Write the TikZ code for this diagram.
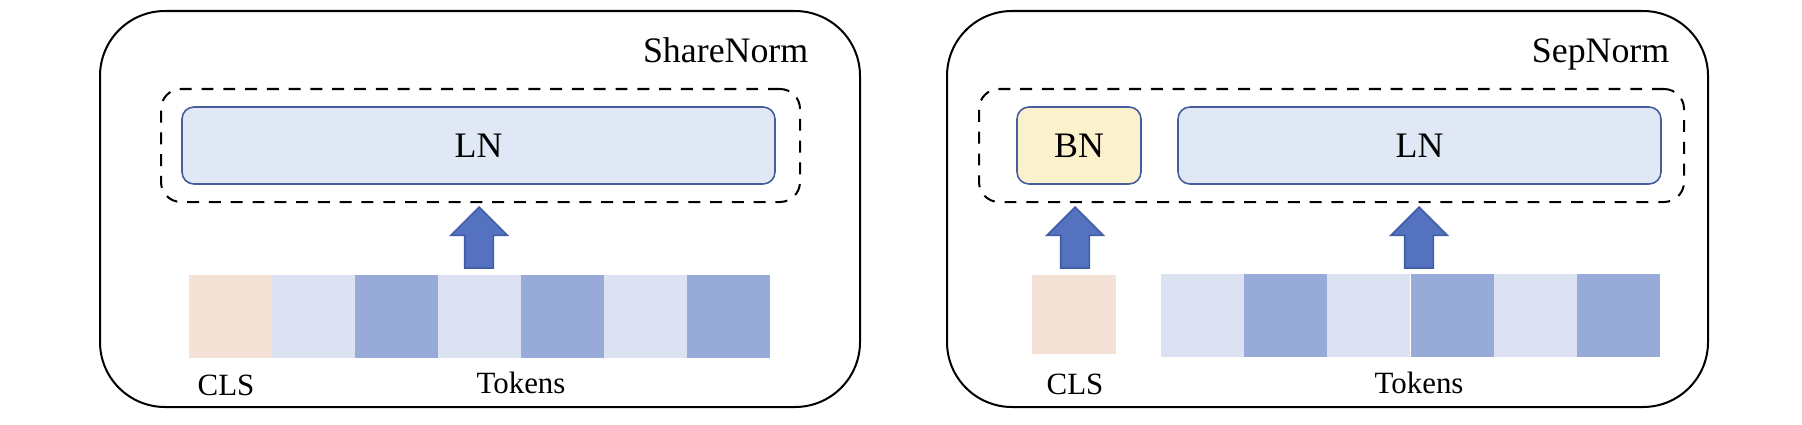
\documentclass[tikz,border=0pt]{standalone}
\usepackage{fontspec}
\setmainfont{Liberation Serif}
\usetikzlibrary{shapes.arrows}

\definecolor{lnfill}{RGB}{225,232,245}
\definecolor{bnfill}{RGB}{251,241,205}
\definecolor{boxline}{RGB}{70,94,158}
\definecolor{arrowfill}{RGB}{84,114,192}
\definecolor{arrowline}{RGB}{64,92,165}
\definecolor{clsfill}{RGB}{245,226,214}
\definecolor{toklight}{RGB}{220,226,241}
\definecolor{tokdark}{RGB}{152,171,216}

\tikzset{
  panel/.style={draw, line width=0.57pt, rounded corners=0.65cm, inner sep=0pt},
  normgroup/.style={draw, dash pattern=on 3.4pt off 2.8pt, line width=0.57pt, rounded corners=0.2cm, inner sep=0pt},
  normbox/.style={draw=boxline, line width=0.45pt, rounded corners=0.12cm, minimum height=0.77cm, inner sep=0pt, font=\fontsize{10.2}{12}\selectfont},
  tok/.style={minimum width=0.83cm, minimum height=0.83cm, inner sep=0pt},
  upblock/.style={single arrow, shape border rotate=90, fill=arrowfill, draw=arrowline, line width=0.45pt,
    minimum height=0.61cm, minimum width=0.55cm, single arrow head extend=0.14cm, inner sep=0.135cm},
  title/.style={font=\fontsize{10.2}{12}\selectfont, inner sep=0pt},
  caption/.style={font=\fontsize{8.8}{10}\selectfont, inner sep=0pt}
}

\begin{document}
\begin{tikzpicture}
  \useasboundingbox (0,0) rectangle (18.02,4.24);

  % ShareNorm
  \node[panel, minimum width=7.60cm, minimum height=3.96cm] (panelL) at (4.80,2.15) {};
  \node[title, anchor=base east] (titleL) at (8.09,3.61) {ShareNorm};
  \node[normgroup, minimum width=6.39cm, minimum height=1.13cm] (groupL) at (4.805,2.785) {};
  \node[normbox, fill=lnfill, minimum width=5.93cm] (lnL) at (4.785,2.785) {LN};
  \node[upblock, anchor=tip] (arrL) at (4.79,2.18) {};
  \node[tok, fill=clsfill] (clsL) at (2.301,1.075) {};
  \node[tok, fill=toklight] (tokL1) at (3.131,1.075) {};
  \node[tok, fill=tokdark] (tokL2) at (3.961,1.075) {};
  \node[tok, fill=toklight] (tokL3) at (4.791,1.075) {};
  \node[tok, fill=tokdark] (tokL4) at (5.621,1.075) {};
  \node[tok, fill=toklight] (tokL5) at (6.451,1.075) {};
  \node[tok, fill=tokdark] (tokL6) at (7.281,1.075) {};
  \node[caption, anchor=base] (clsTextL) at (2.26,0.29) {CLS};
  \node[caption, anchor=base] (tokTextL) at (5.21,0.31) {Tokens};

  % SepNorm
  \node[panel, minimum width=7.61cm, minimum height=3.96cm] (panelR) at (13.275,2.15) {};
  \node[title, anchor=base east] (titleR) at (16.70,3.61) {SepNorm};
  \node[normgroup, minimum width=7.05cm, minimum height=1.13cm] (groupR) at (13.315,2.785) {};
  \node[normbox, fill=bnfill, minimum width=1.24cm] (bnR) at (10.79,2.785) {BN};
  \node[normbox, fill=lnfill, minimum width=4.83cm] (lnR) at (14.195,2.785) {LN};
  \node[upblock, anchor=tip] (arrRa) at (10.75,2.18) {};
  \node[upblock, anchor=tip] (arrRb) at (14.19,2.18) {};
  \node[tok, fill=clsfill, minimum width=0.84cm, minimum height=0.79cm] (clsR) at (10.74,1.095) {};
  \node[tok, fill=toklight] (tokR1) at (12.022,1.085) {};
  \node[tok, fill=tokdark] (tokR2) at (12.855,1.085) {};
  \node[tok, fill=toklight] (tokR3) at (13.688,1.085) {};
  \node[tok, fill=tokdark] (tokR4) at (14.522,1.085) {};
  \node[tok, fill=toklight] (tokR5) at (15.355,1.085) {};
  \node[tok, fill=tokdark] (tokR6) at (16.188,1.085) {};
  \node[caption, anchor=base] (clsTextR) at (10.75,0.30) {CLS};
  \node[caption, anchor=base] (tokTextR) at (14.19,0.31) {Tokens};
\end{tikzpicture}
\end{document}
